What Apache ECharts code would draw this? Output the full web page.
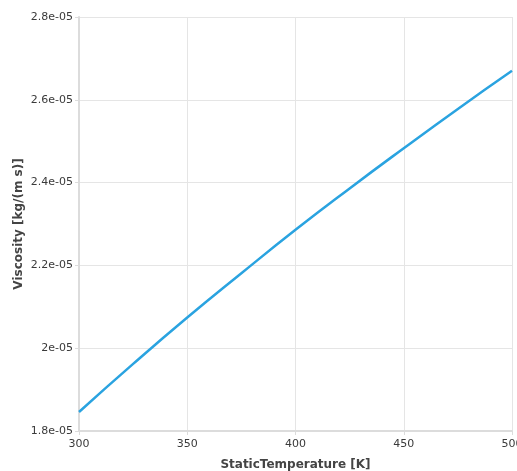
<!DOCTYPE html>
<html><head><meta charset="utf-8">
<script src="https://cdn.jsdelivr.net/npm/echarts@6/dist/echarts.min.js"></script>
<style>html,body{margin:0;padding:0;background:#fff}#c{width:517px;height:471px}</style>
</head><body><div id="c"></div>
<script>
const temperature = [300, 325, 350, 375, 400, 425, 450, 475, 500];
const viscosity = [1.846e-5, 1.962e-5, 2.074e-5, 2.181e-5, 2.286e-5, 2.386e-5, 2.483e-5, 2.578e-5, 2.670e-5];
const xTitle = 'StaticTemperature [K]';
const yTitle = 'Viscosity [kg/(m s)]';
const yTickLabels = {'1.8':'1.8e-05','2':'2e-05','2.2':'2.2e-05','2.4':'2.4e-05','2.6':'2.6e-05','2.8':'2.8e-05'};

const chart = echarts.init(document.getElementById('c'));
const font = 'Verdana, "DejaVu Sans", sans-serif';
chart.setOption({
  animation: false,
  grid: {left: 79, right: 5, top: 17, bottom: 40, outerBoundsMode: 'none', containLabel: false},
  xAxis: {
    type: 'value', min: 300, max: 500, interval: 50,
    name: xTitle, nameLocation: 'middle', nameGap: 28, nameMoveOverlap: false,
    nameTextStyle: {fontFamily: font, fontSize: 12, fontWeight: 'bold', color: '#444'},
    axisLine: {lineStyle: {color: '#dcdcdc', width: 2}},
    axisTick: {show: true, length: 4, lineStyle: {color: '#dcdcdc'}},
    axisLabel: {fontFamily: font, fontSize: 11, color: '#3a3a3a', margin: 8},
    splitLine: {lineStyle: {color: '#e5e5e5', width: 1}}
  },
  yAxis: {
    type: 'value', min: 1.8e-5, max: 2.8e-5, interval: 0.2e-5,
    name: yTitle, nameLocation: 'middle', nameGap: 54, nameRotate: 90, nameMoveOverlap: false,
    nameTextStyle: {fontFamily: font, fontSize: 12, fontWeight: 'bold', color: '#444'},
    axisLine: {show: true, lineStyle: {color: '#dcdcdc', width: 2}},
    axisTick: {show: true, length: 4, lineStyle: {color: '#dcdcdc'}},
    axisLabel: {fontFamily: font, fontSize: 11, color: '#3a3a3a', margin: 6,
      formatter: v => { const k = String(Math.round(v * 1e6) / 10); return yTickLabels[k] || k; }},
    splitLine: {lineStyle: {color: '#e5e5e5', width: 1}}
  },
  series: [{
    type: 'line', data: temperature.map((t, i) => [t, viscosity[i]]),
    showSymbol: false, smooth: true,
    lineStyle: {color: '#2aa3e0', width: 2.5}
  }]
});
</script></body></html>
